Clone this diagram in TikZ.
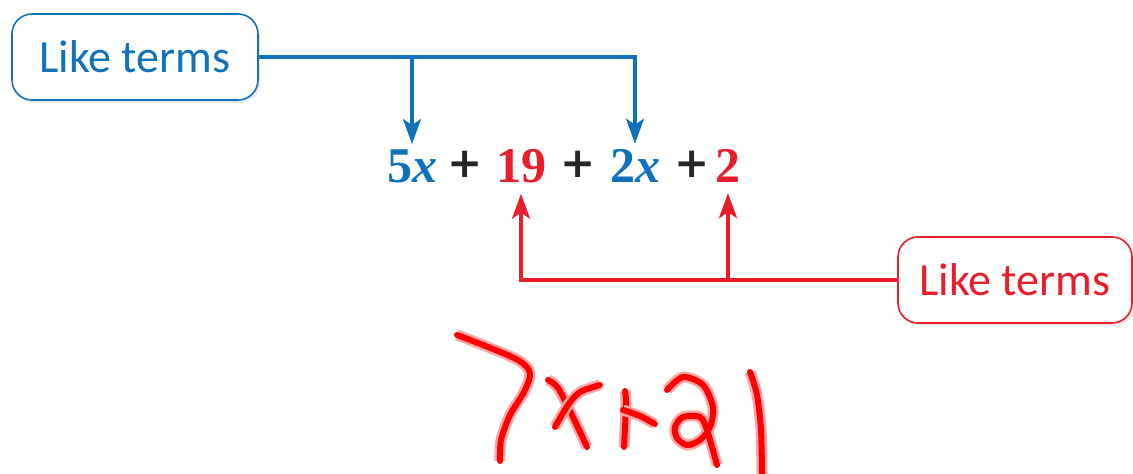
\documentclass[tikz,border=0pt]{standalone}
\usepackage{fontspec}
\setmainfont{Carlito}
\newfontfamily\eqfont{Liberation Serif}
\newfontfamily\plusfont{DejaVu Sans}
\usetikzlibrary{positioning,arrows.meta,shadows}
\definecolor{termblue}{RGB}{16,114,186}
\definecolor{termred}{RGB}{232,30,42}
\definecolor{inkred}{RGB}{255,0,0}

\begin{document}
\begin{tikzpicture}[x=1pt, y=-1pt,
box/.style={draw, rounded corners=20pt, line width=1.6pt, fill=white, minimum width=#1, minimum height=86pt, inner sep=0pt, font=\fontsize{46}{50}\selectfont, drop shadow={opacity=0.18, shadow xshift=2pt, shadow yshift=-3pt}},
term/.style={anchor=base, inner sep=0pt, font=\eqfont\bfseries\fontsize{50}{54}\selectfont},
plus/.style={inner sep=0pt, text=black!85, font=\plusfont\bfseries\fontsize{42}{46}\selectfont},
barr/.style={termblue, line width=3.5pt, shorten >=5pt, -{Stealth[length=25pt, width=18pt, inset=6pt]}},
rarr/.style={termred, line width=3.5pt, shorten >=11pt, -{Stealth[length=25pt, width=18pt, inset=6pt]}},
ink/.style={inkred, line width=6pt, line cap=round, line join=round, preaction={draw=inkred!35, line width=11pt}}
]
\useasboundingbox (0,0) rectangle (1133,474);

% labels
\node[box=246pt, draw=termblue, text=termblue] (likeblue) at (135,57) {Like terms};
\node[box=234pt, draw=termred, text=termred] (likered) at (1015,280) {Like terms};

% the expression
\node[term, text=termblue] (t5x) at (412,182) {5\textit{x}};
\node[plus] (plusa) at (465,164) {+};
\node[term, text=termred] (t19) at (521,182) {19};
\node[plus] (plusb) at (578,164) {+};
\node[term, text=termblue] (t2x) at (635,182) {2\textit{x}};
\node[plus] (plusc) at (692,164) {+};
\node[term, text=termred] (t2) at (728,182) {2};

% connectors
\draw[barr] (likeblue.east) -| (t2x.north);
\draw[barr] (t5x.north |- likeblue.east) -- (t5x.north);
\draw[rarr] (likered.west) -| (t19.south);
\draw[rarr] (t2.south |- likered.west) -- (t2.south);

% handwritten answer
\draw[ink] plot[smooth] coordinates {(457,335) (483,345) (518,360) (530,373) (524,392) (510,415) (501,440) (500,461)};
\draw[ink] plot[smooth] coordinates {(548,380) (558,388) (572,415) (587,447)};
\draw[ink] plot[smooth] coordinates {(600,385) (580,392) (568,405) (555,427)};
\draw[ink] plot[smooth] coordinates {(625,391) (626,405) (624,447)};
\draw[ink] plot[smooth] coordinates {(623,410) (640,416) (655,424)};
\draw[ink] plot[smooth] coordinates {(667,390) (683,377) (703,385) (713,407) (710,427) (700,440) (687,445) (677,438) (675,427) (683,417) (700,417) (707,430) (717,465)};
\draw[ink] plot[smooth] coordinates {(750,372) (757,395) (761,430) (762,474)};
\end{tikzpicture}
\end{document}
